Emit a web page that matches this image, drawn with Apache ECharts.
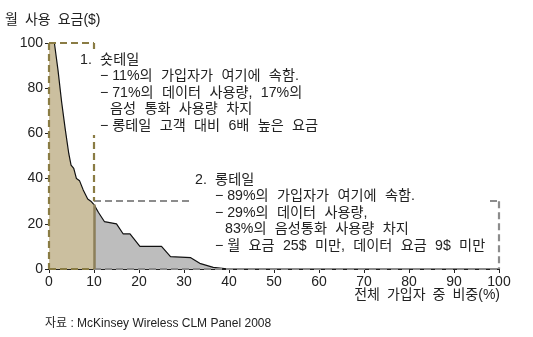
<!DOCTYPE html>
<html>
<head>
<meta charset="utf-8">
<script src="https://cdn.jsdelivr.net/npm/echarts@6/dist/echarts.min.js"></script>
<style>
  html, body { margin: 0; padding: 0; background: #fff; }
  #chart { width: 533px; height: 337px; }
</style>
</head>
<body>
<div id="chart"></div>
<script>
// Monthly bill by share of subscribers (sorted from heaviest to lightest users)
const shortTail = [
  [0, 100], [1.2, 100], [2.0, 88], [2.8, 74], [3.2, 68], [3.6, 62], [4.4, 51],
  [4.9, 46], [5.5, 44.5], [6.1, 40], [6.8, 39], [7.6, 35], [8.6, 31], [9.3, 30], [10, 28.5]
];
const longTail = [
  [10, 28.5], [11, 25], [12.3, 21], [15, 20], [16.5, 15.5], [18, 15.5], [20.2, 10],
  [25, 10], [27, 5.5], [31.5, 5], [33.5, 2.5], [36.5, 0.7], [40, 0], [100, 0]
];
const yTicks = [0, 20, 40, 60, 80, 100];
const xTicks = [0, 10, 20, 30, 40, 50, 60, 70, 80, 90, 100];

const shortBox = { x0: 0, x1: 10, y0: 0, y1: 100 };
const longBox = { x0: 10, x1: 100, y0: 0, y1: 30 };

const yTitle = '월 사용 요금($)';
const xTitle = '전체 가입자 중 비중(%)';
const source = '자료 : McKinsey Wireless CLM Panel 2008';
const note1 = [
  '1. 숏테일',
  '− 11%의 가입자가 여기에 속함.',
  '− 71%의 데이터 사용량, 17%의',
  '음성 통화 사용량 차지',
  '− 롱테일 고객 대비 6배 높은 요금'
];
const note2 = [
  '2. 롱테일',
  '− 89%의 가입자가 여기에 속함.',
  '− 29%의 데이터 사용량,',
  '83%의 음성통화 사용량 차지',
  '− 월 요금 25$ 미만, 데이터 요금 9$ 미만'
];

const olive = '#8a7c44';
const greyDash = '#8c8c8c';
const numFont = '"Liberation Sans", Arial, sans-serif';
const krFont = '"Liberation Sans", "Noto Sans CJK KR", sans-serif';
const noteFont = '14.2px ' + krFont;

// Korean text is set with wide word gaps (the gap after a bullet stays narrow)
const wideTitle = s => s.replace(/ /g, '\u2002');
const wide = s => s.replace(/^− /, '−\u0001').replace(/ /g, '\u2002\u200A').replace('\u0001', ' ');

function seg(a, b) { return [{ coord: a }, { coord: b }]; }

// Lay out an annotation block: header, bullet lines and continuation lines
function noteBlock(lines, x, y, box) {
  const els = [{
    type: 'rect', z: 99, silent: true,
    shape: box, style: { fill: '#fff' }
  }];
  lines.forEach((t, i) => {
    let lx = x;
    if (t.startsWith('−')) lx = x + 20;
    else if (i > 0) lx = x + 30;
    els.push({
      type: 'text', z: 100, x: lx, y: y + i * 16.4,
      style: { text: wide(t), font: noteFont, fill: '#222', verticalAlign: 'middle' }
    });
  });
  return els;
}

const chart = echarts.init(document.getElementById('chart'), null, { renderer: 'canvas' });
chart.setOption({
  animation: false,
  backgroundColor: '#fff',
  grid: { left: 49, right: 34, top: 43, bottom: 68 },
  xAxis: {
    type: 'value', min: 0, max: 100, interval: 10,
    axisLine: { lineStyle: { color: '#222', width: 1 } },
    axisTick: { length: 4, lineStyle: { color: '#222' } },
    axisLabel: { margin: 6, fontFamily: numFont, fontSize: 14, color: '#222',
      formatter: v => xTicks.includes(v) ? String(v) : '' },
    splitLine: { show: false }
  },
  yAxis: {
    type: 'value', min: 0, max: 100, interval: 20,
    axisLine: { show: true, lineStyle: { color: '#222', width: 1 } },
    axisTick: { show: true, length: 4, lineStyle: { color: '#222' } },
    axisLabel: { margin: 6, fontFamily: numFont, fontSize: 14, color: '#222',
      formatter: v => yTicks.includes(v) ? String(v) : '' },
    splitLine: { show: false }
  },
  series: [
    {
      type: 'line', data: longTail, symbol: 'none', z: 2,
      lineStyle: { color: '#111', width: 1.2 },
      areaStyle: { color: '#bdbdbd', opacity: 1 },
      markLine: {
        silent: true, symbol: 'none', label: { show: false },
        lineStyle: { color: greyDash, type: [7, 4], width: 2.2 },
        data: [
          seg([longBox.x0, longBox.y1], [longBox.x1, longBox.y1]),
          seg([longBox.x1, longBox.y1], [longBox.x1, longBox.y0]),
          seg([longBox.x0, longBox.y0], [longBox.x1, longBox.y0])
        ]
      }
    },
    {
      type: 'line', data: shortTail, symbol: 'none', z: 3,
      lineStyle: { color: '#111', width: 1.2 },
      areaStyle: { color: '#cbbf9f', opacity: 1 },
      markLine: {
        silent: true, symbol: 'none', label: { show: false },
        lineStyle: { color: olive, type: [7, 4], width: 2.2 },
        data: [
          seg([shortBox.x0, shortBox.y1], [shortBox.x1, shortBox.y1]),
          seg([shortBox.x1, shortBox.y1], [shortBox.x1, longBox.y1]),
          seg([shortBox.x0, shortBox.y1], [shortBox.x0, shortBox.y0]),
          seg([shortBox.x0, shortBox.y0], [shortBox.x1, shortBox.y0]),
          // solid divider between the short and long tail areas
          [{ coord: [10, 0], lineStyle: { type: 'solid', color: '#8c7f5a', width: 2.5 } },
           { coord: [10, shortTail[shortTail.length - 1][1]] }]
        ]
      }
    }
  ],
  graphic: [
    { type: 'text', left: 5, top: 13, z: 100,
      style: { text: wideTitle(yTitle), font: '14px ' + krFont, fill: '#222' } },
    { type: 'text', right: 33, top: 288, z: 100,
      style: { text: wideTitle(xTitle), font: '14px ' + krFont, fill: '#222' } },
    { type: 'text', left: 45, top: 318, z: 100,
      style: { text: source, font: '12px ' + krFont, fill: '#222' } }
  ]
    .concat(noteBlock(note1, 80, 60, { x: 72, y: 49, width: 258, height: 86 }))
    .concat(noteBlock(note2, 195, 180, { x: 190, y: 170, width: 298, height: 86 }))
});
</script>
</body>
</html>
